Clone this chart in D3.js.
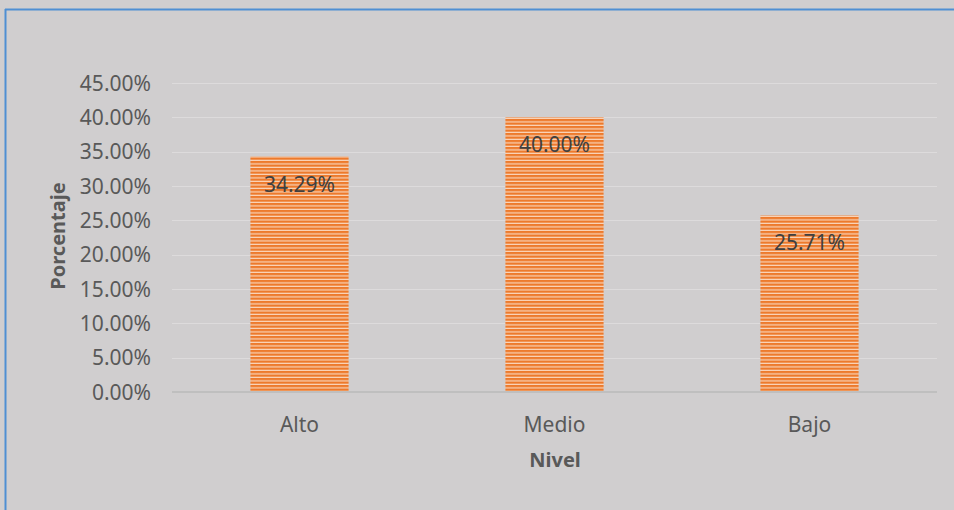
<!DOCTYPE html>
<html>
<head>
<meta charset="utf-8">
<script src="https://cdnjs.cloudflare.com/ajax/libs/d3/7.8.5/d3.min.js"></script>
<style>
  html, body { margin: 0; padding: 0; background: #d0cecf; }
  svg { display: block; }
</style>
</head>
<body>
<div id="chart"></div>
<script>
// niveles y porcentajes
var niveles = ["Alto", "Medio", "Bajo"];
var porcentajes = [0.3429, 0.4000, 0.2571];
var ticks = [0, 0.05, 0.10, 0.15, 0.20, 0.25, 0.30, 0.35, 0.40, 0.45];

var W = 954, H = 510;
var plotLeft = 172, plotRight = 937, plotTop = 83, plotBottom = 392;

var svg = d3.select("#chart").append("svg")
    .attr("width", W)
    .attr("height", H);

svg.append("rect")
    .attr("width", W).attr("height", H)
    .attr("fill", "#d0cecf");

// borde azul del recuadro
svg.append("line")
    .attr("x1", 5).attr("x2", W).attr("y1", 9.5).attr("y2", 9.5)
    .attr("stroke", "#4f8fd3").attr("stroke-width", 2);
svg.append("line")
    .attr("x1", 5.5).attr("x2", 5.5).attr("y1", 9).attr("y2", H)
    .attr("stroke", "#4f8fd3").attr("stroke-width", 2);

// relleno rayado horizontal
var defs = svg.append("defs");
var pat = defs.append("pattern")
    .attr("id", "rayas")
    .attr("patternUnits", "userSpaceOnUse")
    .attr("width", 10).attr("height", 3.5);
pat.append("rect").attr("width", 10).attr("height", 3.5).attr("fill", "#fad6bc");
pat.append("rect").attr("width", 10).attr("height", 2.3).attr("fill", "#ed7a2c");

var x = d3.scaleBand()
    .domain(niveles)
    .range([plotLeft, plotRight])
    .paddingInner(0.615)
    .paddingOuter(0.3075);

var y = d3.scaleLinear()
    .domain([0, 0.45])
    .range([plotBottom, plotTop]);

// lineas de cuadricula
svg.append("g")
    .selectAll("line")
    .data(ticks.slice(1))
    .enter()
    .append("line")
    .attr("x1", plotLeft).attr("x2", plotRight)
    .attr("y1", function(d) { return Math.round(y(d)) + 0.5; })
    .attr("y2", function(d) { return Math.round(y(d)) + 0.5; })
    .attr("stroke", "#dddbdc")
    .attr("stroke-width", 1.2);

// etiquetas del eje Y
svg.append("g")
    .selectAll("text")
    .data(ticks)
    .enter()
    .append("text")
    .attr("x", 151)
    .attr("y", function(d) { return y(d) + 7.5; })
    .attr("text-anchor", "end")
    .attr("font-family", "'Noto Sans', sans-serif")
    .attr("font-size", "21px")
    .attr("fill", "#595959")
    .text(function(d) { return (d * 100).toFixed(2) + "%"; });

// barras
svg.append("g")
    .selectAll("rect")
    .data(niveles)
    .enter()
    .append("rect")
    .attr("x", function(d) { return x(d); })
    .attr("y", function(d, i) { return y(porcentajes[i]); })
    .attr("width", x.bandwidth())
    .attr("height", function(d, i) { return plotBottom - y(porcentajes[i]); })
    .attr("fill", "url(#rayas)");

// eje X
svg.append("line")
    .attr("x1", plotLeft).attr("x2", plotRight)
    .attr("y1", plotBottom).attr("y2", plotBottom)
    .attr("stroke", "#bfbfbf")
    .attr("stroke-width", 2.2);

// etiquetas de valor
svg.append("g")
    .selectAll("text")
    .data(niveles)
    .enter()
    .append("text")
    .attr("x", function(d) { return x(d) + x.bandwidth() / 2; })
    .attr("y", function(d, i) { return y(porcentajes[i]) + 35; })
    .attr("text-anchor", "middle")
    .attr("font-family", "'Noto Sans', sans-serif")
    .attr("font-size", "21px")
    .attr("fill", "#404040")
    .text(function(d, i) { return (porcentajes[i] * 100).toFixed(2) + "%"; });

// categorias
svg.append("g")
    .selectAll("text")
    .data(niveles)
    .enter()
    .append("text")
    .attr("x", function(d) { return x(d) + x.bandwidth() / 2; })
    .attr("y", 431.5)
    .attr("text-anchor", "middle")
    .attr("font-family", "'Noto Sans', sans-serif")
    .attr("font-size", "21px")
    .attr("fill", "#595959")
    .text(function(d) { return d; });

// titulos de ejes
svg.append("text")
    .attr("x", 555).attr("y", 467)
    .attr("text-anchor", "middle")
    .attr("font-family", "'Noto Sans', sans-serif")
    .attr("font-size", "20px")
    .attr("font-weight", "bold")
    .attr("fill", "#595959")
    .text("Nivel");

svg.append("text")
    .attr("transform", "translate(65,236) rotate(-90)")
    .attr("text-anchor", "middle")
    .attr("font-family", "'Noto Sans', sans-serif")
    .attr("font-size", "20px")
    .attr("font-weight", "bold")
    .attr("fill", "#595959")
    .text("Porcentaje");
</script>
</body>
</html>
